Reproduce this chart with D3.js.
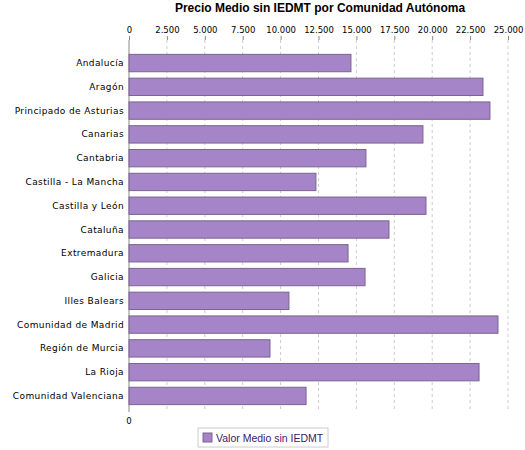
<!DOCTYPE html>
<html><head><meta charset="utf-8">
<script src="https://cdn.jsdelivr.net/npm/d3@7"></script>
<style>body{margin:0;background:#fff;font-family:"DejaVu Sans",sans-serif}</style>
</head><body><svg id="c" width="525" height="450"></svg>
<script>
const categories=["Andalucía","Aragón","Principado de Asturias","Canarias","Cantabria","Castilla - La Mancha","Castilla y León","Cataluña","Extremadura","Galicia","Illes Balears","Comunidad de Madrid","Región de Murcia","La Rioja","Comunidad Valenciana"];
const values=[14640,23350,23810,19390,15630,12330,19590,17150,14450,15570,10550,24340,9300,23090,11680];
const ticks=[0,2500,5000,7500,10000,12500,15000,17500,20000,22500,25000];
const seriesName="Valor Medio sin IEDMT";
const svg=d3.select("#c");
const L=129,R=515,T=40,B=412;
const x=d3.scaleLinear().domain([0,25000]).range([L,L+379]);
const y=d3.scaleBand().domain(categories).range([T+12,B-5]).paddingInner(0.27).paddingOuter(0.1);
const fmt=d3.formatLocale({decimal:",",thousands:".",grouping:[3]}).format(",");
svg.append("text").attr("x",320).attr("y",12).attr("text-anchor","middle").attr("font-size",12).attr("font-weight","bold").attr("font-family","Liberation Sans, Arial").text("Precio Medio sin IEDMT por Comunidad Autónoma");
svg.append("g").selectAll("line").data(ticks.slice(1)).join("line").attr("x1",d=>x(d)).attr("x2",d=>x(d)).attr("y1",T).attr("y2",B).attr("stroke","#ccc").attr("stroke-dasharray","3,3");
const ax=svg.append("g").attr("transform",`translate(0,${T})`).call(d3.axisTop(x).tickValues(ticks).tickFormat(fmt).tickSize(4));
ax.select(".domain").remove();
ax.selectAll("text").attr("font-size",8.5).attr("font-family","DejaVu Sans").attr("fill","#000");
ax.selectAll("line").attr("stroke","#888");
svg.append("line").attr("x1",L).attr("x2",L).attr("y1",T).attr("y2",B).attr("stroke","#888");
svg.append("text").attr("x",L).attr("y",B+12).attr("text-anchor","middle").attr("font-size",8.5).text("0");
svg.append("g").selectAll("rect").data(values).join("rect").attr("x",L).attr("y",(d,i)=>y(categories[i])).attr("width",d=>x(d)-L).attr("height",y.bandwidth()).attr("fill","#a584c8").attr("stroke","#7a6590");
svg.append("g").selectAll("text").data(categories).join("text").attr("x",L-5).attr("y",d=>y(d)+y.bandwidth()/2+3).attr("text-anchor","end").attr("font-size",9).attr("letter-spacing",0.4).text(d=>d);
const lg=svg.append("g");
lg.append("rect").attr("x",198).attr("y",428).attr("width",130).attr("height",19).attr("fill","#fff").attr("stroke","#ccc");
lg.append("rect").attr("x",203).attr("y",433).attr("width",9).attr("height",9).attr("fill","#a584c8").attr("stroke","#7a6590");
lg.append("text").attr("x",216).attr("y",442).attr("font-size",10.5).attr("font-family","Liberation Sans, Arial").attr("fill","#3a1a6a").text(seriesName);
</script></body></html>
